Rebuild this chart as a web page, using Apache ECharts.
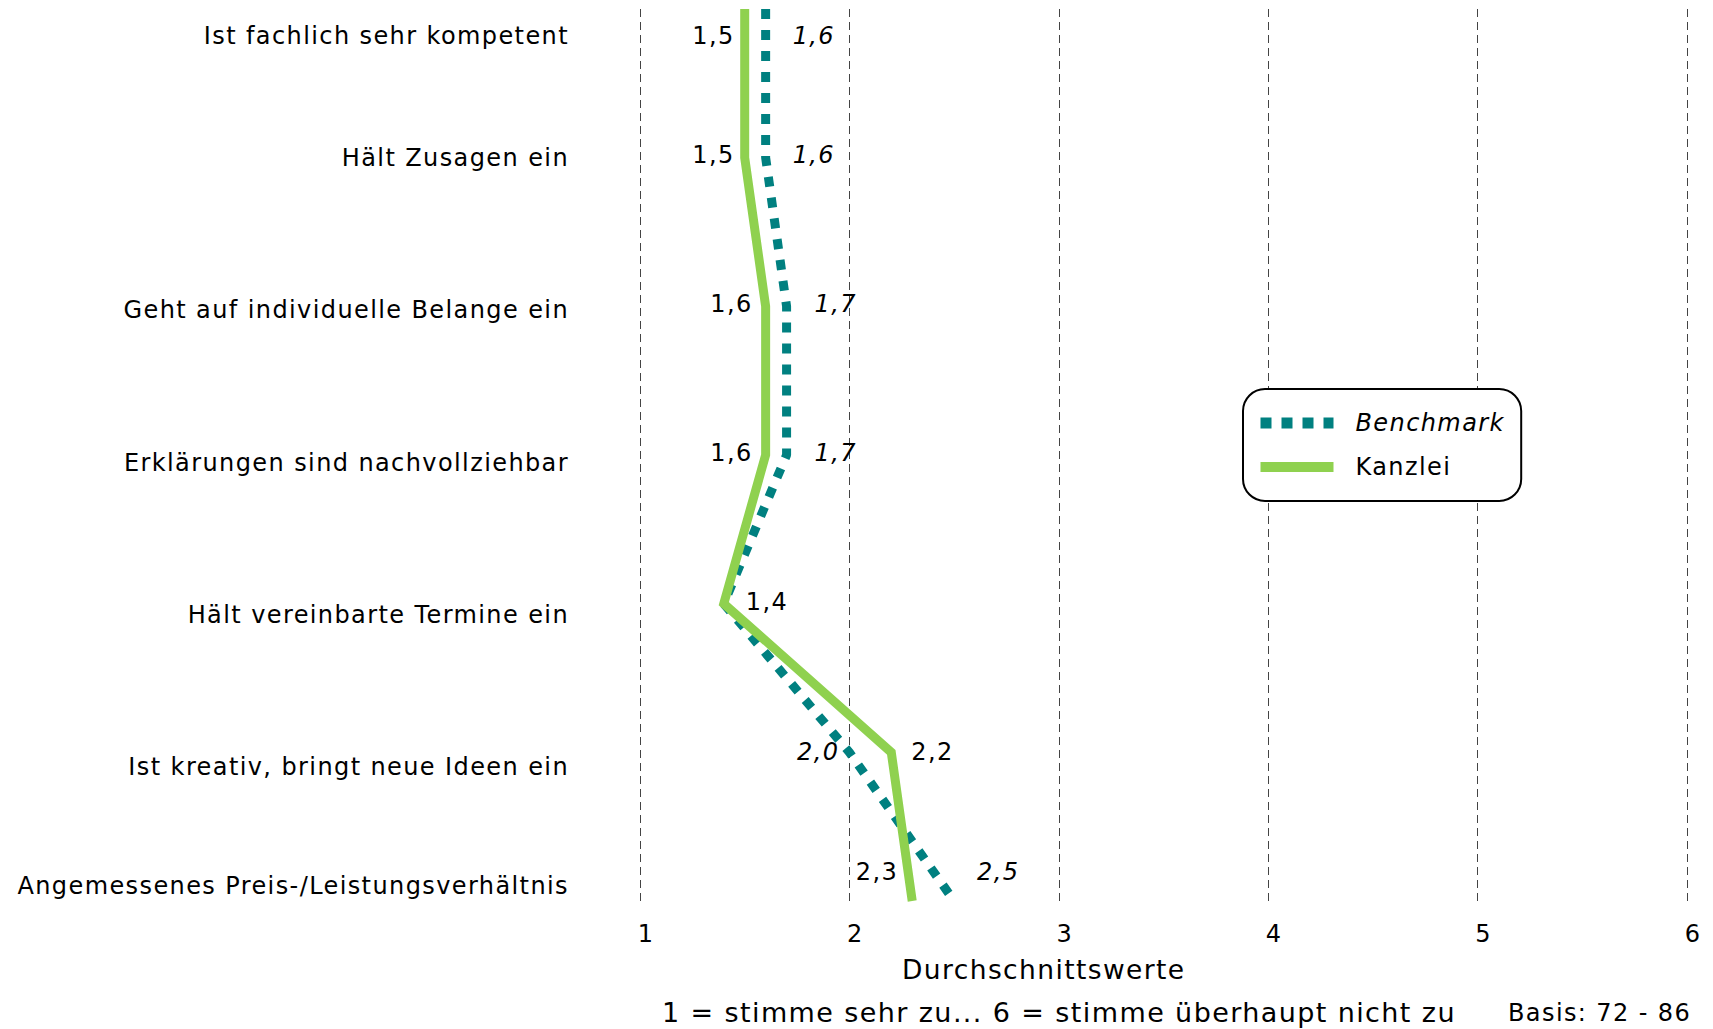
<!DOCTYPE html>
<html><head><meta charset="utf-8">
<script src="https://cdn.jsdelivr.net/npm/echarts@6/dist/echarts.min.js"></script>
<style>
html,body{margin:0;padding:0;background:#fff;}
#chart{width:1713px;height:1029px;}
#chart svg text{letter-spacing:1.4px;}
</style></head><body><div id="chart"></div>
<script>
// ---- data ----
const categories = [
  'Ist fachlich sehr kompetent',
  'Hält Zusagen ein',
  'Geht auf individuelle Belange ein',
  'Erklärungen sind nachvollziehbar',
  'Hält vereinbarte Termine ein',
  'Ist kreativ, bringt neue Ideen ein',
  'Angemessenes Preis-/Leistungsverhältnis'
];
const benchmark = [1.6, 1.6, 1.7, 1.7, 1.4, 2.0, 2.5];
const kanzlei   = [1.5, 1.5, 1.6, 1.6, 1.4, 2.2, 2.3];
const xTicks    = [1, 2, 3, 4, 5, 6];
const seriesNames = ['Benchmark', 'Kanzlei'];
const axisName = 'Durchschnittswerte';
const scaleNote = '1 = stimme sehr zu... 6 = stimme überhaupt nicht zu';
const baseNote = 'Basis: 72 - 86';

// ---- layout (label placement only) ----
const catLabelShift = [27, 0, 4, 8, 11, 15, -15];
const kanzleiLabelPos = [['left',10,27],['left',10,-3],['left',13,-2],['left',13,-2],['right',22,-2],['right',20,0],['left',14,-29]];
const benchLabelPos   = [['right',27,27],['right',27,-3],['right',28,-2],['right',28,-2],null,['left',10,0],['right',23,-29]];

const FONT = '"DejaVu Sans", Verdana, sans-serif';
const TEAL = '#008080', GREEN = '#8FD14F';
const fmt = v => Number(v).toFixed(1).replace('.', ',');

function itemLabel(spec) {
  if (!spec) return { show: false };
  return { show: true, position: spec[0], distance: spec[1], offset: [0, spec[2]] };
}

const rich = {};
catLabelShift.forEach((d, i) => {
  rich['s' + i] = {
    fontSize: 24, fontFamily: FONT, color: '#000',
    padding: d >= 0 ? [2 * d, 0, 0, 0] : [0, 0, -2 * d, 0]
  };
});

const chart = echarts.init(document.getElementById('chart'), null, { renderer: 'svg' });
chart.setOption({
  backgroundColor: '#fff',
  animation: false,
  grid: { left: 640, right: 26, top: 9, bottom: 128, containLabel: false },
  xAxis: {
    type: 'value', min: xTicks[0], max: xTicks[xTicks.length - 1], interval: 1,
    axisLine: { show: false }, axisTick: { show: false },
    axisLabel: { margin: 21, fontSize: 24, fontFamily: FONT, color: '#000', padding: [0, 0, 0, 12],
      formatter: v => String(v) },
    splitLine: { show: true, lineStyle: { color: '#444', width: 1, type: [8, 5] } }
  },
  yAxis: {
    type: 'category', data: categories, inverse: true, boundaryGap: false,
    axisLine: { show: false }, axisTick: { show: false }, splitLine: { show: false },
    axisLabel: { interval: 0, margin: 71, fontSize: 24, fontFamily: FONT, color: '#000',
      formatter: (v, i) => '{s' + i + '|' + v + '}', rich: rich }
  },
  legend: {
    orient: 'vertical', left: 1243, top: 389,
    padding: [22, 29, 22, 12], itemGap: 20, itemWidth: 73, itemHeight: 24,
    backgroundColor: '#fff', borderColor: '#000', borderWidth: 2, borderRadius: 22,
    selectedMode: false,
    itemStyle: { opacity: 0 },
    textStyle: { fontSize: 24, fontFamily: FONT, color: '#000', padding: [0, 0, 0, 17] },
    data: [
      { name: seriesNames[0], textStyle: { fontStyle: 'italic' },
        lineStyle: { color: TEAL, width: 11, type: [11, 10], cap: 'butt' } },
      { name: seriesNames[1],
        lineStyle: { color: GREEN, width: 10, type: 'solid', cap: 'butt' } }
    ]
  },
  series: [
    {
      name: seriesNames[0], type: 'line', z: 2,
      symbol: 'circle', symbolSize: 0,
      itemStyle: { color: TEAL },
      lineStyle: { color: TEAL, width: 9, type: [10, 11], cap: 'butt' },
      label: { show: true, fontSize: 24, fontFamily: FONT, fontStyle: 'italic', color: '#000',
        formatter: p => fmt(p.value) },
      data: benchmark.map((v, i) => ({ value: v, label: itemLabel(benchLabelPos[i]) }))
    },
    {
      name: seriesNames[1], type: 'line', z: 3,
      symbol: 'circle', symbolSize: 0,
      itemStyle: { color: GREEN },
      lineStyle: { color: GREEN, width: 9, cap: 'butt', join: 'miter' },
      label: { show: true, fontSize: 24, fontFamily: FONT, color: '#000',
        formatter: p => fmt(p.value) },
      data: kanzlei.map((v, i) => ({ value: v, label: itemLabel(kanzleiLabelPos[i]) }))
    }
  ],
  graphic: [
    { type: 'text', x: 902, y: 969, style: { text: axisName, font: '26.5px ' + FONT, fill: '#000', verticalAlign: 'middle' } },
    { type: 'text', x: 662, y: 1012, style: { text: scaleNote, font: '27px ' + FONT, fill: '#000', verticalAlign: 'middle' } },
    { type: 'text', x: 1508, y: 1013, style: { text: baseNote, font: '24px ' + FONT, fill: '#000', verticalAlign: 'middle' } }
  ]
});
</script></body></html>
